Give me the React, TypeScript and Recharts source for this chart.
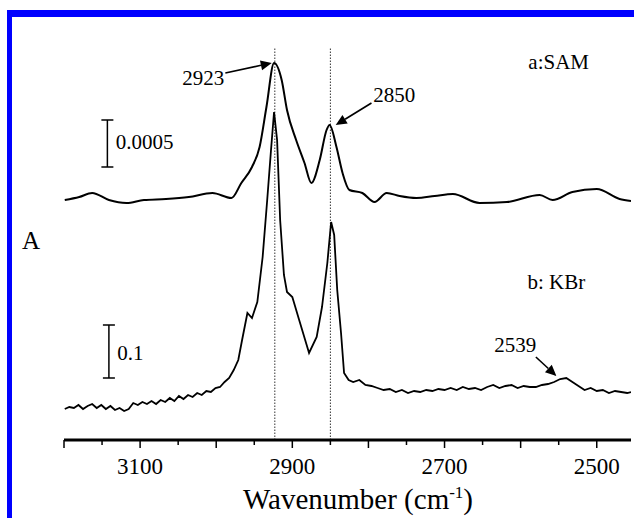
import {
  LineChart,
  Line,
  XAxis,
  YAxis,
  ReferenceLine,
  ReferenceDot,
} from 'recharts';

// x ticks (cm-1), labels only every 200
const xTicks = [3200, 3150, 3100, 3050, 3000, 2950, 2900, 2850, 2800, 2750, 2700, 2650, 2600, 2550, 2500];
const xLabels = [3100, 2900, 2700, 2500];

// a: SAM (offset, arbitrary units)
const samWn = [3199, 3180, 3163, 3141, 3118, 3095, 3066, 3036, 3005, 2980, 2967, 2953, 2943, 2934, 2924, 2914, 2907, 2895, 2884, 2875, 2864, 2855, 2851, 2842, 2834, 2825, 2808, 2792, 2776, 2759, 2737, 2713, 2689, 2654, 2618, 2575, 2558, 2532, 2500, 2470, 2455];
const samAbs = [240, 243, 247, 240, 237, 240, 241, 243, 247, 242, 257, 273, 293, 333, 377, 360, 330, 300, 277, 257, 280, 310, 315, 293, 267, 250, 247, 238, 247, 244, 242, 244, 246, 237, 238, 245, 240, 248, 251, 241, 239];

// b: KBr
const kbrWn = [
  3199, 3193, 3187, 3181, 3175, 3169, 3163, 3157, 3151, 3145, 3139, 3133, 3127, 3121, 3115, 3109, 3103, 3097, 3091, 3085,
  3079, 3073, 3067, 3061, 3055, 3049, 3043, 3037, 3031, 3025, 3019, 3013, 3007, 3001, 2995, 2989, 2983, 2977, 2971, 2966,
  2959, 2953, 2946, 2939, 2933, 2928, 2924, 2920, 2916, 2911, 2907, 2900, 2891, 2878, 2868, 2861, 2854, 2849, 2845, 2841,
  2836, 2832, 2826, 2820, 2812, 2804, 2796, 2788, 2780, 2772, 2764, 2756, 2748, 2740, 2732, 2724, 2716, 2708, 2700, 2692,
  2684, 2676, 2668, 2660, 2652, 2644, 2636, 2628, 2620, 2612, 2604, 2596, 2588, 2580, 2572, 2564, 2556, 2548, 2540, 2532,
  2524, 2516, 2508, 2500, 2492, 2484, 2476, 2468, 2460, 2455,
];
const kbrAbs = [
  31, 33, 32, 35, 31, 34, 36, 32, 35, 31, 34, 30, 32, 29, 31, 37, 35, 38, 36, 39,
  36, 40, 38, 42, 39, 44, 41, 45, 43, 47, 45, 49, 48, 52, 53, 58, 62, 70, 80, 100,
  127, 122, 138, 183, 240, 290, 328, 300, 220, 165, 148, 143, 120, 87, 103, 133, 177, 218, 205, 150,
  107, 67, 60, 58, 60, 55, 54, 52, 50, 51, 48, 50, 47, 49, 48, 50, 49, 51, 50, 52,
  50, 53, 51, 52, 50, 53, 55, 52, 54, 55, 52, 54, 53, 53, 55, 56, 58, 61, 62, 58,
  54, 50, 52, 49, 50, 47, 49, 48, 47, 48,
];

const peakLines = [2923, 2850];

const samData = samWn.map((wn, i) => ({ wn, a: samAbs[i] }));
const kbrData = kbrWn.map((wn, i) => ({ wn, b: kbrAbs[i] }));

const FONT = '"Liberation Serif", "Times New Roman", Times, serif';
const W = 634;
const H = 518;
const PLOT_TOP = 22;
const PLOT_BOTTOM = 440;
const X_DOMAIN: [number, number] = [2455, 3200];
const Y_DOMAIN: [number, number] = [0, 418];

const serif = { fontFamily: FONT };

const BottomTick = (props: any) => {
  const { x, payload } = props;
  const v = payload.value;
  const major = (3200 - v) % 100 === 0;
  return (
    <g>
      <line x1={x} x2={x} y1={PLOT_BOTTOM} y2={PLOT_BOTTOM + (major ? 8 : 5)} stroke="#000" strokeWidth={1.5} />
      {xLabels.includes(v) && (
        <text x={x} y={PLOT_BOTTOM + 34} textAnchor="middle" style={serif} fontSize={23} fill="#000">
          {v}
        </text>
      )}
    </g>
  );
};

const TopTick = (props: any) => {
  const { x } = props;
  return <line x1={x} x2={x} y1={PLOT_TOP} y2={PLOT_TOP + 4} stroke="#000" strokeWidth={1} />;
};

const Arrow = (props: any) => {
  const { x1, y1, x2, y2 } = props;
  const ang = Math.atan2(y2 - y1, x2 - x1);
  const len = 11;
  const wid = 5;
  const bx = x2 - len * Math.cos(ang);
  const by = y2 - len * Math.sin(ang);
  const px = -Math.sin(ang) * wid;
  const py = Math.cos(ang) * wid;
  return (
    <g>
      <line x1={x1} y1={y1} x2={bx} y2={by} stroke="#000" strokeWidth={1.6} />
      <polygon points={`${x2},${y2} ${bx + px},${by + py} ${bx - px},${by - py}`} fill="#000" />
    </g>
  );
};

const ScaleBar = (props: any) => {
  const { x1, y1, x2, y2 } = props;
  return (
    <g stroke="#000" strokeWidth={1.5}>
      <line x1={x1} y1={y1} x2={x2} y2={y2} />
      <line x1={x1 - 6} y1={y1} x2={x1 + 6} y2={y1} />
      <line x1={x2 - 6} y1={y2} x2={x2 + 6} y2={y2} />
    </g>
  );
};

const textShape = (label: string, anchor: string, size = 21) => (p: any) => (
  <text x={p.cx} y={p.cy} dy="0.35em" textAnchor={anchor} style={serif} fontSize={size} fill="#000">
    {label}
  </text>
);

const texts = [
  { label: '2923', x: 3017, y: 362, anchor: 'middle' },
  { label: '2850', x: 2766, y: 345, anchor: 'middle' },
  { label: 'a:SAM', x: 2550, y: 378, anchor: 'middle' },
  { label: 'b: KBr', x: 2553, y: 158, anchor: 'middle' },
  { label: '2539', x: 2607, y: 95, anchor: 'middle' },
  { label: '0.0005', x: 3132, y: 298, anchor: 'start' },
  { label: '0.1', x: 3130, y: 87, anchor: 'start' },
];

const arrows = [
  { from: { x: 2988, y: 367 }, to: { x: 2927, y: 377 } },
  { from: { x: 2796, y: 337 }, to: { x: 2843, y: 315 } },
  { from: { x: 2580, y: 83 }, to: { x: 2553, y: 64 } },
];

const scaleBars = [
  { x: 3143, y1: 320, y2: 273 },
  { x: 3141, y1: 115, y2: 62 },
];

export default function App() {
  return (
    <div style={{ position: 'fixed', left: 0, top: 0, width: W, height: H, background: '#fff' }}>
      <div style={{ position: 'absolute', left: 7, top: 10, width: W - 7, height: 7, background: '#0000ff' }} />
      <div style={{ position: 'absolute', left: 7, top: 10, width: 5, height: H - 10, background: '#0000ff' }} />
      <LineChart width={W} height={H} margin={{ top: PLOT_TOP, right: 3, bottom: 18, left: 64 }}>
        <XAxis
          dataKey="wn"
          type="number"
          domain={X_DOMAIN}
          reversed
          allowDataOverflow
          ticks={xTicks}
          interval={0}
          height={60}
          tickLine={false}
          axisLine={{ stroke: '#000', strokeWidth: 3 }}
          tick={<BottomTick />}
          label={({ viewBox }: any) => (
            <g>
              <text x={358} y={viewBox.y + 69} textAnchor="middle" style={serif} fontSize={29} fill="#000">
                Wavenumber (cm
                <tspan dy={-11} fontSize={17}>-1</tspan>
                <tspan dy={11}>)</tspan>
              </text>
              <text x={31} y={249} textAnchor="middle" style={serif} fontSize={25} fill="#000">
                A
              </text>
            </g>
          )}
        />
        <XAxis
          xAxisId="top"
          orientation="top"
          dataKey="wn"
          type="number"
          domain={X_DOMAIN}
          reversed
          allowDataOverflow
          ticks={xTicks}
          interval={0}
          height={0}
          tickLine={false}
          axisLine={{ stroke: '#000', strokeWidth: 2 }}
          tick={<TopTick />}
        />
        <YAxis
          type="number"
          domain={Y_DOMAIN}
          allowDataOverflow
          width={0}
          tick={false}
          tickLine={false}
          axisLine={{ stroke: '#000', strokeWidth: 3 }}
        />
        <YAxis
          yAxisId="right"
          orientation="right"
          type="number"
          domain={Y_DOMAIN}
          width={0}
          tick={false}
          tickLine={false}
          axisLine={{ stroke: '#000', strokeWidth: 1.5 }}
        />
        {peakLines.map((p) => (
          <ReferenceLine
            key={p}
            segment={[{ x: p, y: 0 }, { x: p, y: 392 }]}
            stroke="#333"
            strokeWidth={1}
            strokeDasharray="1.5 1.5"
          />
        ))}
        <Line
          data={samData}
          dataKey="a"
          type="monotone"
          stroke="#000"
          strokeWidth={2}
          dot={false}
          isAnimationActive={false}
        />
        <Line
          data={kbrData}
          dataKey="b"
          type="linear"
          stroke="#000"
          strokeWidth={1.8}
          dot={false}
          isAnimationActive={false}
        />
        {arrows.map((a, i) => (
          <ReferenceLine key={`ar${i}`} segment={[a.from, a.to]} shape={<Arrow />} />
        ))}
        {scaleBars.map((s, i) => (
          <ReferenceLine key={`sb${i}`} segment={[{ x: s.x, y: s.y1 }, { x: s.x, y: s.y2 }]} shape={<ScaleBar />} />
        ))}
        {texts.map((t) => (
          <ReferenceDot key={t.label} x={t.x} y={t.y} r={0} shape={textShape(t.label, t.anchor)} />
        ))}
      </LineChart>
    </div>
  );
}
